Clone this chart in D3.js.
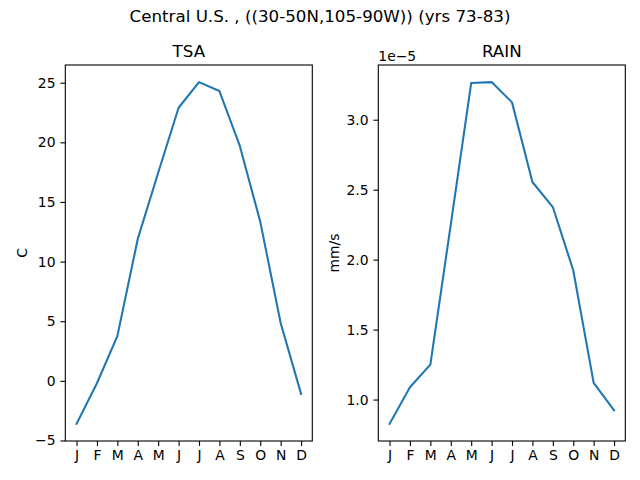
<!DOCTYPE html>
<html>
<head>
<meta charset="utf-8">
<script src="https://cdn.jsdelivr.net/npm/d3@7"></script>
<style>
  body { margin: 0; background: #fff; }
  svg { display: block; font-family: "DejaVu Sans", sans-serif; }
  .tick text { font-size: 13.9px; fill: #000; }
</style>
</head>
<body>
<div id="viz"></div>
<script>
var months = ['J', 'F', 'M', 'A', 'M', 'J', 'J', 'A', 'S', 'O', 'N', 'D'];
var tsa = [-3.61, -0.2, 3.75, 11.9, 17.45, 22.9, 25.05, 24.3, 19.7, 13.35, 4.85, -1.09];
var rain = [0.826e-5, 1.088e-5, 1.25e-5, 2.25e-5, 3.262e-5, 3.269e-5, 3.124e-5, 2.555e-5, 2.376e-5, 1.924e-5, 1.119e-5, 0.924e-5];
var tsaTicks = [-5, 0, 5, 10, 15, 20, 25];
var rainTicks = [1.0e-5, 1.5e-5, 2.0e-5, 2.5e-5, 3.0e-5];

var width = 640;
var height = 480;
var plotTop = 65, plotBottom = 441;
var blue = '#1f77b4';

var svg = d3.select('#viz')
  .append('svg')
  .attr('width', width)
  .attr('height', height);

svg.append('text')
  .attr('x', 320)
  .attr('y', 22)
  .attr('text-anchor', 'middle')
  .style('font-size', '16.7px')
  .text('Central U.S. , ((30-50N,105-90W)) (yrs 73-83)');

// matplotlib style 5% margins
function padDomain(vals) {
  var lo = d3.min(vals), hi = d3.max(vals);
  var m = (hi - lo) * 0.05;
  return [lo - m, hi + m];
}

function panel(x0, x1, data, ticks, fmt, title, ylabel, ylabelX) {
  var x = d3.scalePoint().domain(d3.range(12)).range([x0, x1]).padding(0.55);
  var y = d3.scaleLinear().domain(padDomain(data)).range([plotBottom, plotTop]);

  var line = d3.line()
    .x(function(d, i) { return x(i); })
    .y(function(d) { return y(d); });

  svg.append('path')
    .datum(data)
    .attr('d', line)
    .attr('fill', 'none')
    .attr('stroke', blue)
    .attr('stroke-width', 2.08)
    .attr('stroke-linejoin', 'round')
    .attr('stroke-linecap', 'square');

  var xAxis = d3.axisBottom(x).tickSize(4.9).tickPadding(4.6)
    .tickFormat(function(i) { return months[i]; });
  var gx = svg.append('g')
    .attr('transform', `translate(0,${plotBottom})`)
    .call(xAxis);

  var yAxis = d3.axisLeft(y).tickValues(ticks).tickSize(4.9).tickPadding(4.9)
    .tickFormat(fmt);
  var gy = svg.append('g')
    .attr('transform', `translate(${x0},0)`)
    .call(yAxis);

  [gx, gy].forEach(function(g) {
    g.select('.domain').remove();
    g.selectAll('.tick line').attr('stroke', '#000').attr('stroke-width', 1.1);
    g.selectAll('.tick text').attr('font-family', '"DejaVu Sans", sans-serif');
  });

  svg.append('rect')
    .attr('x', x0)
    .attr('y', plotTop)
    .attr('width', x1 - x0)
    .attr('height', plotBottom - plotTop)
    .attr('fill', 'none')
    .attr('stroke', '#000')
    .attr('stroke-width', 1.1);

  svg.append('text')
    .attr('x', (x0 + x1) / 2)
    .attr('y', plotTop - 8.3)
    .attr('text-anchor', 'middle')
    .style('font-size', '16.7px')
    .text(title);

  svg.append('text')
    .attr('transform', `translate(${ylabelX},${(plotTop + plotBottom) / 2}) rotate(-90)`)
    .attr('text-anchor', 'middle')
    .style('font-size', '13.9px')
    .text(ylabel);
}

panel(65.3, 312.3, tsa, tsaTicks, d3.format('d'), 'TSA', 'C', 27);
panel(378.3, 625.3, rain, rainTicks, function(d) { return (d / 1e-5).toFixed(1); }, 'RAIN', 'mm/s', 339);

svg.append('text')
  .attr('x', 378.3)
  .attr('y', 61)
  .style('font-size', '13.9px')
  .text('1e\u22125');
</script>
</body>
</html>
